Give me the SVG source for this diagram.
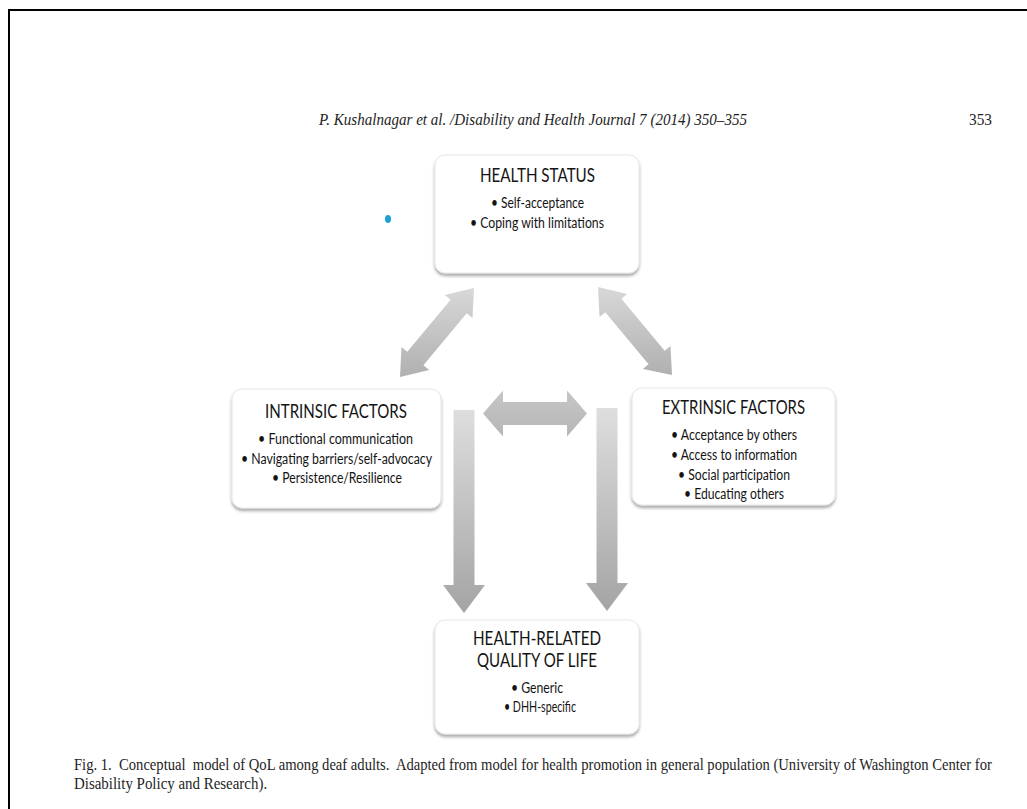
<svg xmlns="http://www.w3.org/2000/svg" width="1027" height="809" viewBox="0 0 1027 809">
  <style>
    .box { fill: #ffffff; stroke: #e6e6e6; stroke-width: 1; filter: url(#sh); }
    .ttl { font-family: Lato, "Open Sans", "Liberation Sans", sans-serif; font-size: 18.5px; fill: #141414; text-anchor: middle; }
    .bul { font-family: Lato, "Open Sans", "Liberation Sans", sans-serif; font-size: 14.5px; fill: #141414; text-anchor: middle; }
    .serif { font-family: "Liberation Serif", "Times New Roman", serif; font-size: 16.5px; fill: #1e1e1e; }
    .frame { stroke: #000000; stroke-width: 2; fill: none; }
  </style>
  <defs>
    <filter id="sh" x="-10%" y="-10%" width="120%" height="130%">
      <feDropShadow dx="0" dy="2.5" stdDeviation="1.4" flood-color="#000000" flood-opacity="0.35"/>
    </filter>
    <linearGradient id="gV" x1="0" y1="0" x2="0" y2="1">
      <stop offset="0" stop-color="#dedede"/>
      <stop offset="1" stop-color="#a4a4a4"/>
    </linearGradient>
    <linearGradient id="gD" x1="0" y1="0" x2="0" y2="1">
      <stop offset="0" stop-color="#d8d8d8"/>
      <stop offset="1" stop-color="#b0b0b0"/>
    </linearGradient>
    <linearGradient id="gH" x1="0" y1="0" x2="0" y2="1">
      <stop offset="0" stop-color="#c6c6c6"/>
      <stop offset="1" stop-color="#b6b6b6"/>
    </linearGradient>
  </defs>

  <rect width="1027" height="809" fill="#ffffff"/>
  <path class="frame" d="M9,809 V10 H1027"/>

  <text class="serif" x="319" y="125" font-size="17" font-style="italic" textLength="428" lengthAdjust="spacingAndGlyphs">P. Kushalnagar et al. /Disability and Health Journal 7 (2014) 350–355</text>
  <text class="serif" x="969" y="125" font-size="17" textLength="23" lengthAdjust="spacingAndGlyphs">353</text>

  <ellipse cx="388" cy="219" rx="3" ry="4" fill="#1ba1d6"/>

  <g id="connectors">
    <polygon fill="url(#gD)" points="474,288 472.5,318 466.7,313.2 423.4,365.3 429.2,370.1 400,377 401.5,347 407.3,351.8 450.6,299.7 444.8,295"/>
    <polygon fill="url(#gD)" points="598,287 599.5,317 605.3,312.2 648.6,364.3 642.8,369.1 672,375 670.5,346 664.7,350.8 621.4,298.7 627.2,294"/>
    <polygon fill="url(#gH)" points="483,413.5 503,390.5 503,402 567,402 567,390.5 587,413.5 567,436.5 567,425 503,425 503,436.5"/>
    <polygon fill="url(#gV)" points="453.5,410 474.5,410 474.5,585 485,585 464,613 443,585 453.5,585"/>
    <polygon fill="url(#gV)" points="596.5,408 617.5,408 617.5,583 628,583 607,611 586,583 596.5,583"/>
  </g>

  <g id="health-status">
    <rect class="box" x="435" y="155" width="204" height="118" rx="10"/>
    <text class="ttl" x="537.5" y="182" textLength="115" lengthAdjust="spacingAndGlyphs">HEALTH STATUS</text>
    <text class="bul" x="537.5" y="208" textLength="93" lengthAdjust="spacingAndGlyphs">• Self-acceptance</text>
    <text class="bul" x="537" y="228" textLength="134" lengthAdjust="spacingAndGlyphs">• Coping with limitations</text>
  </g>

  <g id="intrinsic-factors">
    <rect class="box" x="232" y="389" width="209" height="119" rx="10"/>
    <text class="ttl" x="336" y="418" textLength="142" lengthAdjust="spacingAndGlyphs">INTRINSIC FACTORS</text>
    <text class="bul" x="335.5" y="444" textLength="155" lengthAdjust="spacingAndGlyphs">• Functional communication</text>
    <text class="bul" x="336.5" y="464" textLength="191" lengthAdjust="spacingAndGlyphs">• Navigating barriers/self-advocacy</text>
    <text class="bul" x="337" y="483" textLength="130" lengthAdjust="spacingAndGlyphs">• Persistence/Resilience</text>
  </g>

  <g id="extrinsic-factors">
    <rect class="box" x="632" y="388" width="203" height="117" rx="10"/>
    <text class="ttl" x="733.5" y="414" textLength="143" lengthAdjust="spacingAndGlyphs">EXTRINSIC FACTORS</text>
    <text class="bul" x="734" y="440" textLength="126" lengthAdjust="spacingAndGlyphs">• Acceptance by others</text>
    <text class="bul" x="734" y="460" textLength="126" lengthAdjust="spacingAndGlyphs">• Access to information</text>
    <text class="bul" x="734" y="480" textLength="112" lengthAdjust="spacingAndGlyphs">• Social participation</text>
    <text class="bul" x="734" y="499" textLength="100" lengthAdjust="spacingAndGlyphs">• Educating others</text>
  </g>

  <g id="hrqol">
    <rect class="box" x="435" y="620" width="204" height="114" rx="10"/>
    <text class="ttl" x="537" y="645" textLength="128" lengthAdjust="spacingAndGlyphs">HEALTH-RELATED</text>
    <text class="ttl" x="537" y="667" textLength="120" lengthAdjust="spacingAndGlyphs">QUALITY OF LIFE</text>
    <text class="bul" x="537" y="693" textLength="52" lengthAdjust="spacingAndGlyphs">• Generic</text>
    <text class="bul" x="540" y="712" textLength="72" lengthAdjust="spacingAndGlyphs">• DHH-specific</text>
  </g>

  <text class="serif" transform="translate(74,770) scale(0.87,1)" x="0" y="0" textLength="1055" lengthAdjust="spacingAndGlyphs">Fig. 1.&#160; Conceptual&#160; model of QoL among deaf adults.&#160; Adapted from model for health promotion in general population (University of Washington Center for</text>
  <text class="serif" transform="translate(74,789) scale(0.87,1)" x="0" y="0" textLength="222" lengthAdjust="spacingAndGlyphs">Disability Policy and Research).</text>
</svg>
